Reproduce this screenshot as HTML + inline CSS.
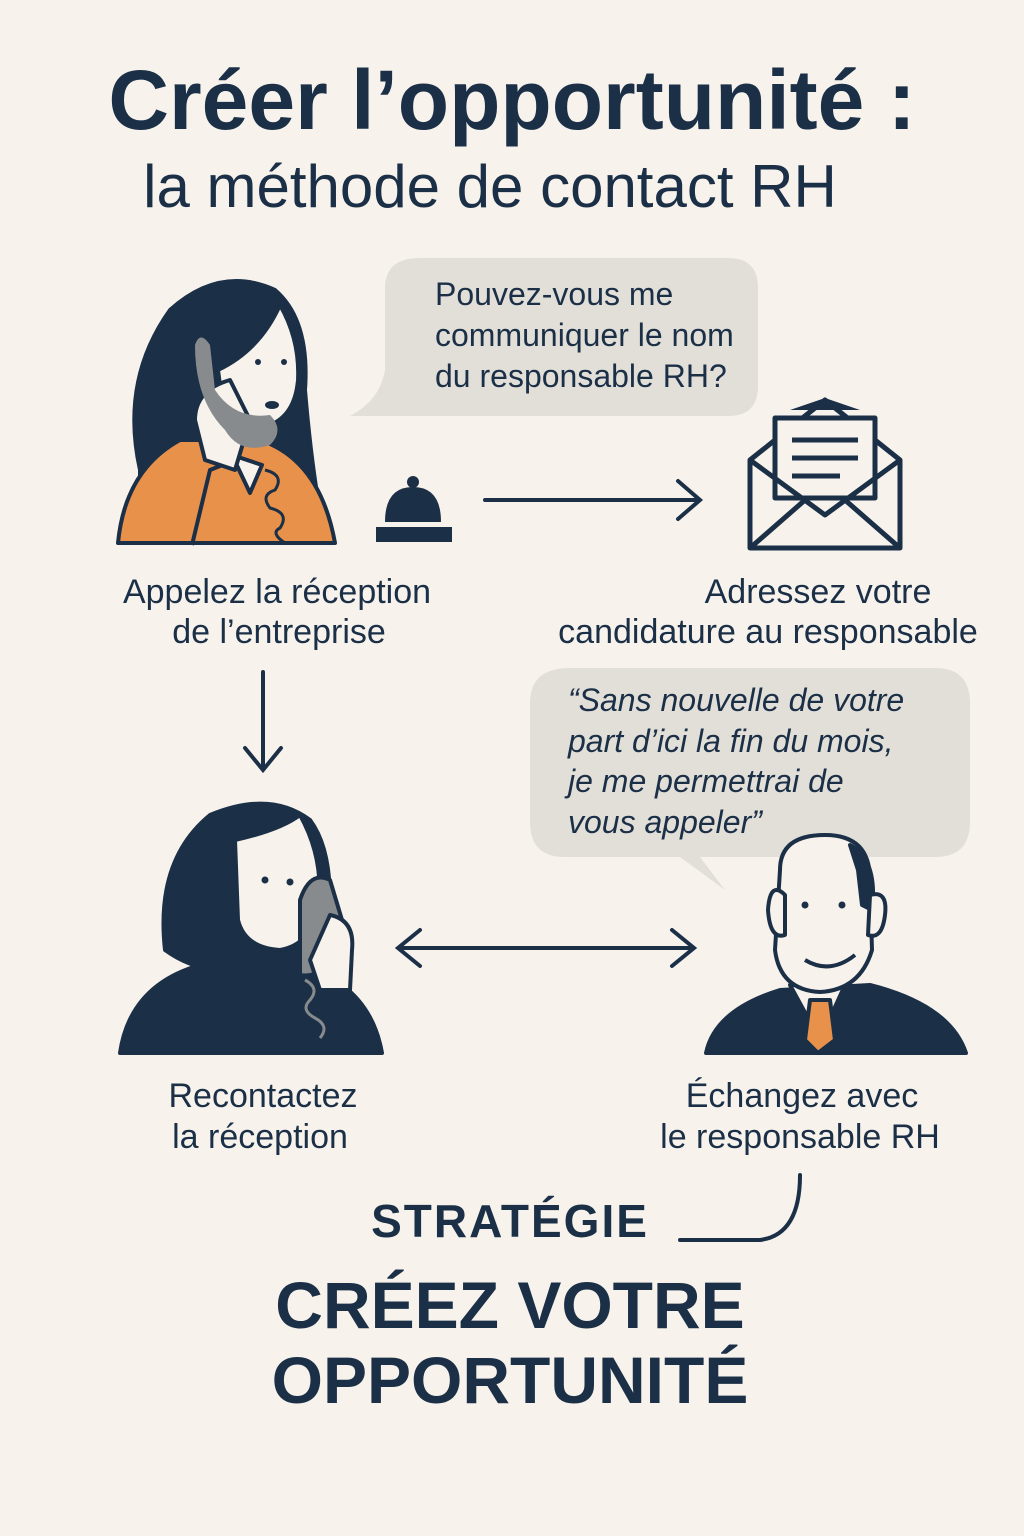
<!DOCTYPE html>
<html><head><meta charset="utf-8"><style>
html,body{margin:0;padding:0;background:#f7f3ec;}
svg{display:block}
text{font-family:"Liberation Sans","DejaVu Sans",sans-serif;fill:#1b2f47}
</style></head><body>
<svg width="1024" height="1536" viewBox="0 0 1024 1536" xmlns="http://www.w3.org/2000/svg">
<rect width="1024" height="1536" fill="#f7f3ec"/>
<text x="512" y="129" text-anchor="middle" font-size="84" font-weight="bold">Créer l’opportunité :</text>
<text x="490" y="207" text-anchor="middle" font-size="60">la méthode de contact RH</text>

<!-- bubble 1 -->
<path d="M420 258 H728 Q758 258 758 288 V386 Q758 416 728 416 H350 Q380 400 385 370 V288 Q385 258 420 258Z" fill="#e2dfd9"/>
<g font-size="32"><text x="435" y="305">Pouvez-vous me</text><text x="435" y="346">communiquer le nom</text><text x="435" y="387">du responsable RH?</text></g>

<!-- woman 1 -->
<g stroke="#1b2f47" stroke-width="4" stroke-linejoin="round">
<path d="M140 470 Q120 380 170 310 Q220 265 275 290 Q310 320 305 390 Q310 450 318 500 L140 500Z" fill="#1b2f47"/>
<path d="M118 543 Q125 470 180 440 L260 440 Q320 460 335 543Z" fill="#e8914a"/>
<path d="M232 455 L250 493 L262 465Z" fill="#f7f3ec"/>
<path d="M280 305 Q300 340 298 380 Q295 415 270 425 Q240 428 222 400 L218 370 Q260 350 280 305Z" fill="#f7f3ec"/>
<path d="M192 545 L210 470 L235 460" fill="none"/>
<path d="M195 420 Q195 390 230 380 L250 420 L235 470 L205 460Z" fill="#f7f3ec"/>
<path d="M195 345 Q200 330 210 345 L215 390 Q235 420 270 415 Q285 430 270 445 Q240 455 225 430 Q195 400 195 345Z" fill="#888b8e" stroke="none"/>
<path d="M265 470 q20 5 10 20 q-15 5 -5 18 q20 5 10 20 q-10 5 5 15" fill="none" stroke-width="3"/>
</g>
<circle cx="258" cy="362" r="3" fill="#1b2f47"/><circle cx="284" cy="362" r="3" fill="#1b2f47"/>
<ellipse cx="272" cy="405" rx="7" ry="4" fill="#1b2f47"/>

<!-- bell -->
<circle cx="413" cy="482" r="6" fill="#1b2f47"/>
<path d="M385 522 Q385 487 413 487 Q441 487 441 522Z" fill="#1b2f47"/>
<rect x="376" y="527" width="76" height="15" fill="#1b2f47"/>

<g stroke="#1b2f47" stroke-width="4" fill="none" stroke-linecap="round">
<line x1="485" y1="500" x2="698" y2="500"/><path d="M678 481 L700 500 L678 519"/>
<line x1="263" y1="672" x2="263" y2="768"/><path d="M245 748 L263 770 L281 748"/>
<line x1="400" y1="948" x2="690" y2="948"/><path d="M420 930 L398 948 L420 966"/><path d="M672 930 L694 948 L672 966"/>
<path d="M680 1240 L760 1240 Q800 1235 800 1175"/>
</g>

<!-- envelope -->
<g stroke="#1b2f47" stroke-width="5" stroke-linejoin="round" fill="none">
<path d="M750 460 L825 400 L900 460 V548 H750Z" fill="#f7f3ec"/>
<rect x="775" y="418" width="100" height="80" fill="#f7f3ec"/>
<path d="M750 460 L825 515 L900 460"/>
<path d="M750 548 L805 500 M900 548 L845 500"/>
<path d="M792 440 H858 M792 458 H858 M792 476 H840"/>
</g>
<path d="M790 410 L825 398 L860 410Z" fill="#1b2f47"/>

<g font-size="34" text-anchor="middle">
<text x="277" y="603">Appelez la réception</text><text x="279" y="643">de l’entreprise</text>
<text x="818" y="603">Adressez votre</text><text x="768" y="643">candidature au responsable</text>
<text x="263" y="1107">Recontactez</text><text x="260" y="1148">la réception</text>
<text x="802" y="1107">Échangez avec</text><text x="800" y="1148">le responsable RH</text>
</g>

<!-- bubble 2 -->
<path d="M570 668 H935 Q970 668 970 703 V822 Q970 857 935 857 H700 L725 890 L680 857 H565 Q530 857 530 822 V703 Q530 668 570 668Z" fill="#e2dfd9"/>
<g font-size="32" font-style="italic"><text x="568" y="711">“Sans nouvelle de votre</text><text x="568" y="752">part d’ici la fin du mois,</text><text x="568" y="792">je me permettrai de</text><text x="568" y="833">vous appeler”</text></g>

<!-- woman 2 -->
<g stroke="#1b2f47" stroke-width="4" stroke-linejoin="round">
<path d="M120 1053 Q130 985 200 965 L300 965 Q370 985 382 1053Z" fill="#1b2f47"/>
<path d="M165 950 Q155 860 210 815 Q270 790 310 820 Q340 860 325 960 L230 965 Q200 975 165 950Z" fill="#1b2f47"/>
<path d="M235 840 Q280 830 300 815 Q325 860 318 910 Q310 945 280 950 Q245 948 238 920Z" fill="#f7f3ec"/>
<path d="M300 900 Q310 870 330 880 L345 930 Q330 980 300 975Z" fill="#888b8e"/>
<path d="M330 915 Q355 920 352 950 L350 990 L320 990 L310 960Z" fill="#f7f3ec"/>
<path d="M305 980 q15 8 5 20 q-10 10 5 18 q15 8 5 20" fill="none" stroke="#888b8e" stroke-width="3"/>
</g>
<circle cx="265" cy="880" r="3.5" fill="#1b2f47"/><circle cx="290" cy="882" r="3.5" fill="#1b2f47"/>

<!-- man -->
<g stroke="#1b2f47" stroke-width="4" stroke-linejoin="round">
<path d="M706 1053 Q715 1010 780 990 L870 985 Q950 1005 966 1053Z" fill="#1b2f47"/>
<path d="M790 985 L820 1040 L845 985Z" fill="#f7f3ec"/>
<path d="M810 1000 L830 1000 L835 1040 L818 1053 L805 1040Z" fill="#e8914a"/>
<path d="M780 870 Q780 835 825 835 Q870 835 870 880 L872 950 Q860 990 820 992 Q780 990 775 950Z" fill="#f7f3ec"/>
<path d="M850 845 Q878 860 872 910 L862 905 L858 870Z" fill="#1b2f47"/>
<path d="M785 895 Q770 880 768 910 Q770 940 785 935Z" fill="#f7f3ec"/>
<path d="M870 895 Q888 890 885 915 Q882 940 868 935Z" fill="#f7f3ec"/>
<path d="M805 960 Q830 975 855 955" fill="none"/>
</g>
<circle cx="805" cy="905" r="3.5" fill="#1b2f47"/><circle cx="842" cy="905" r="3.5" fill="#1b2f47"/>

<text x="510" y="1237" text-anchor="middle" font-size="46" font-weight="bold" letter-spacing="2">STRATÉGIE</text>
<text x="510" y="1328" text-anchor="middle" font-size="66" font-weight="bold">CRÉEZ VOTRE</text>
<text x="510" y="1403" text-anchor="middle" font-size="66" font-weight="bold">OPPORTUNITÉ</text>
</svg>
</body></html>
